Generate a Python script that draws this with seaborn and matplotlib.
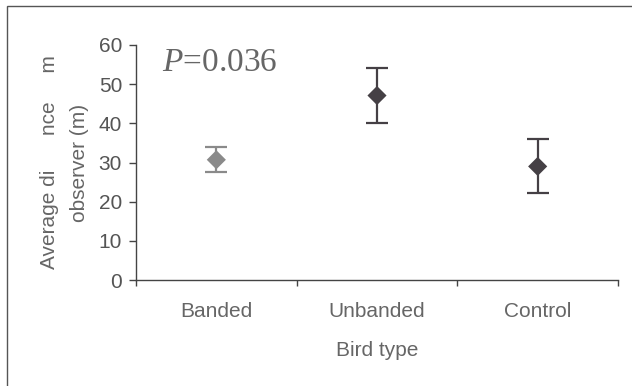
import matplotlib
matplotlib.use("Agg")
import matplotlib.pyplot as plt
import seaborn as sns
import pandas as pd
from matplotlib.patches import Rectangle

categories = ["Banded", "Unbanded", "Control"]
means = [30.7, 47.1, 29.0]
errors = [3.2, 7.0, 6.9]
colors = ["#8a8a8a", "#454045", "#454045"]

sns.set_theme(style="white")
plt.rcParams["font.family"] = ["Liberation Sans", "DejaVu Sans"]
plt.rcParams["mathtext.fontset"] = "custom"
plt.rcParams["mathtext.it"] = "Liberation Serif:italic"
plt.rcParams["mathtext.rm"] = "Liberation Serif"

df = pd.DataFrame({"Bird type": categories, "mean": means, "err": errors})

fig = plt.figure(figsize=(6.32, 3.86), dpi=100)
ax = fig.add_axes([136/632, 1-280/386, (618-136)/632, (280-45)/386])

for i, row in df.iterrows():
    ax.errorbar(i, row["mean"], yerr=row["err"], fmt="none", ecolor=colors[i],
                elinewidth=1.6, capsize=8, capthick=1.6, zorder=2)
sns.scatterplot(data=df, x="Bird type", y="mean", hue="Bird type",
                palette=colors, marker="D", s=95, edgecolor="none",
                legend=False, ax=ax, zorder=3)

ax.set_xlim(-0.5, 2.5)
ax.set_ylim(0, 60)
ax.set_yticks(range(0, 61, 10))
ax.set_xticks(range(3))
ax.set_xticklabels(categories)
ax.set_xticks([-0.5, 0.5, 1.5, 2.5], minor=True)

for s in ["top", "right"]:
    ax.spines[s].set_visible(False)
for s in ["left", "bottom"]:
    ax.spines[s].set_color("#444444")
    ax.spines[s].set_linewidth(1.0)

ax.tick_params(axis="y", which="major", direction="out", length=5, width=1,
               color="#444444", labelsize=15, labelcolor="#555555", pad=5, left=True)
ax.tick_params(axis="x", which="major", length=0, labelsize=15, labelcolor="#666666", pad=16)
ax.tick_params(axis="x", which="minor", direction="out", length=4, width=1,
               color="#444444", bottom=True)

ax.set_xlabel("Bird type", fontsize=15, color="#666666", labelpad=14)
ax.set_ylabel("Average di      nce     m\nobserver (m)", fontsize=15,
              color="#666666", linespacing=1.75, labelpad=7)

ax.text(0.054, 0.89, r"$P$=0.036", transform=ax.transAxes,
        fontsize=24, color="#666666", family=["Liberation Serif", "DejaVu Serif"],
        va="baseline")

fig.patches.append(Rectangle((7/632, -0.1), 1.1, 1.1 - 6/386,
                             transform=fig.transFigure, fill=False,
                             edgecolor="#555555", linewidth=1.0))

fig.savefig("out.png", dpi=100)
